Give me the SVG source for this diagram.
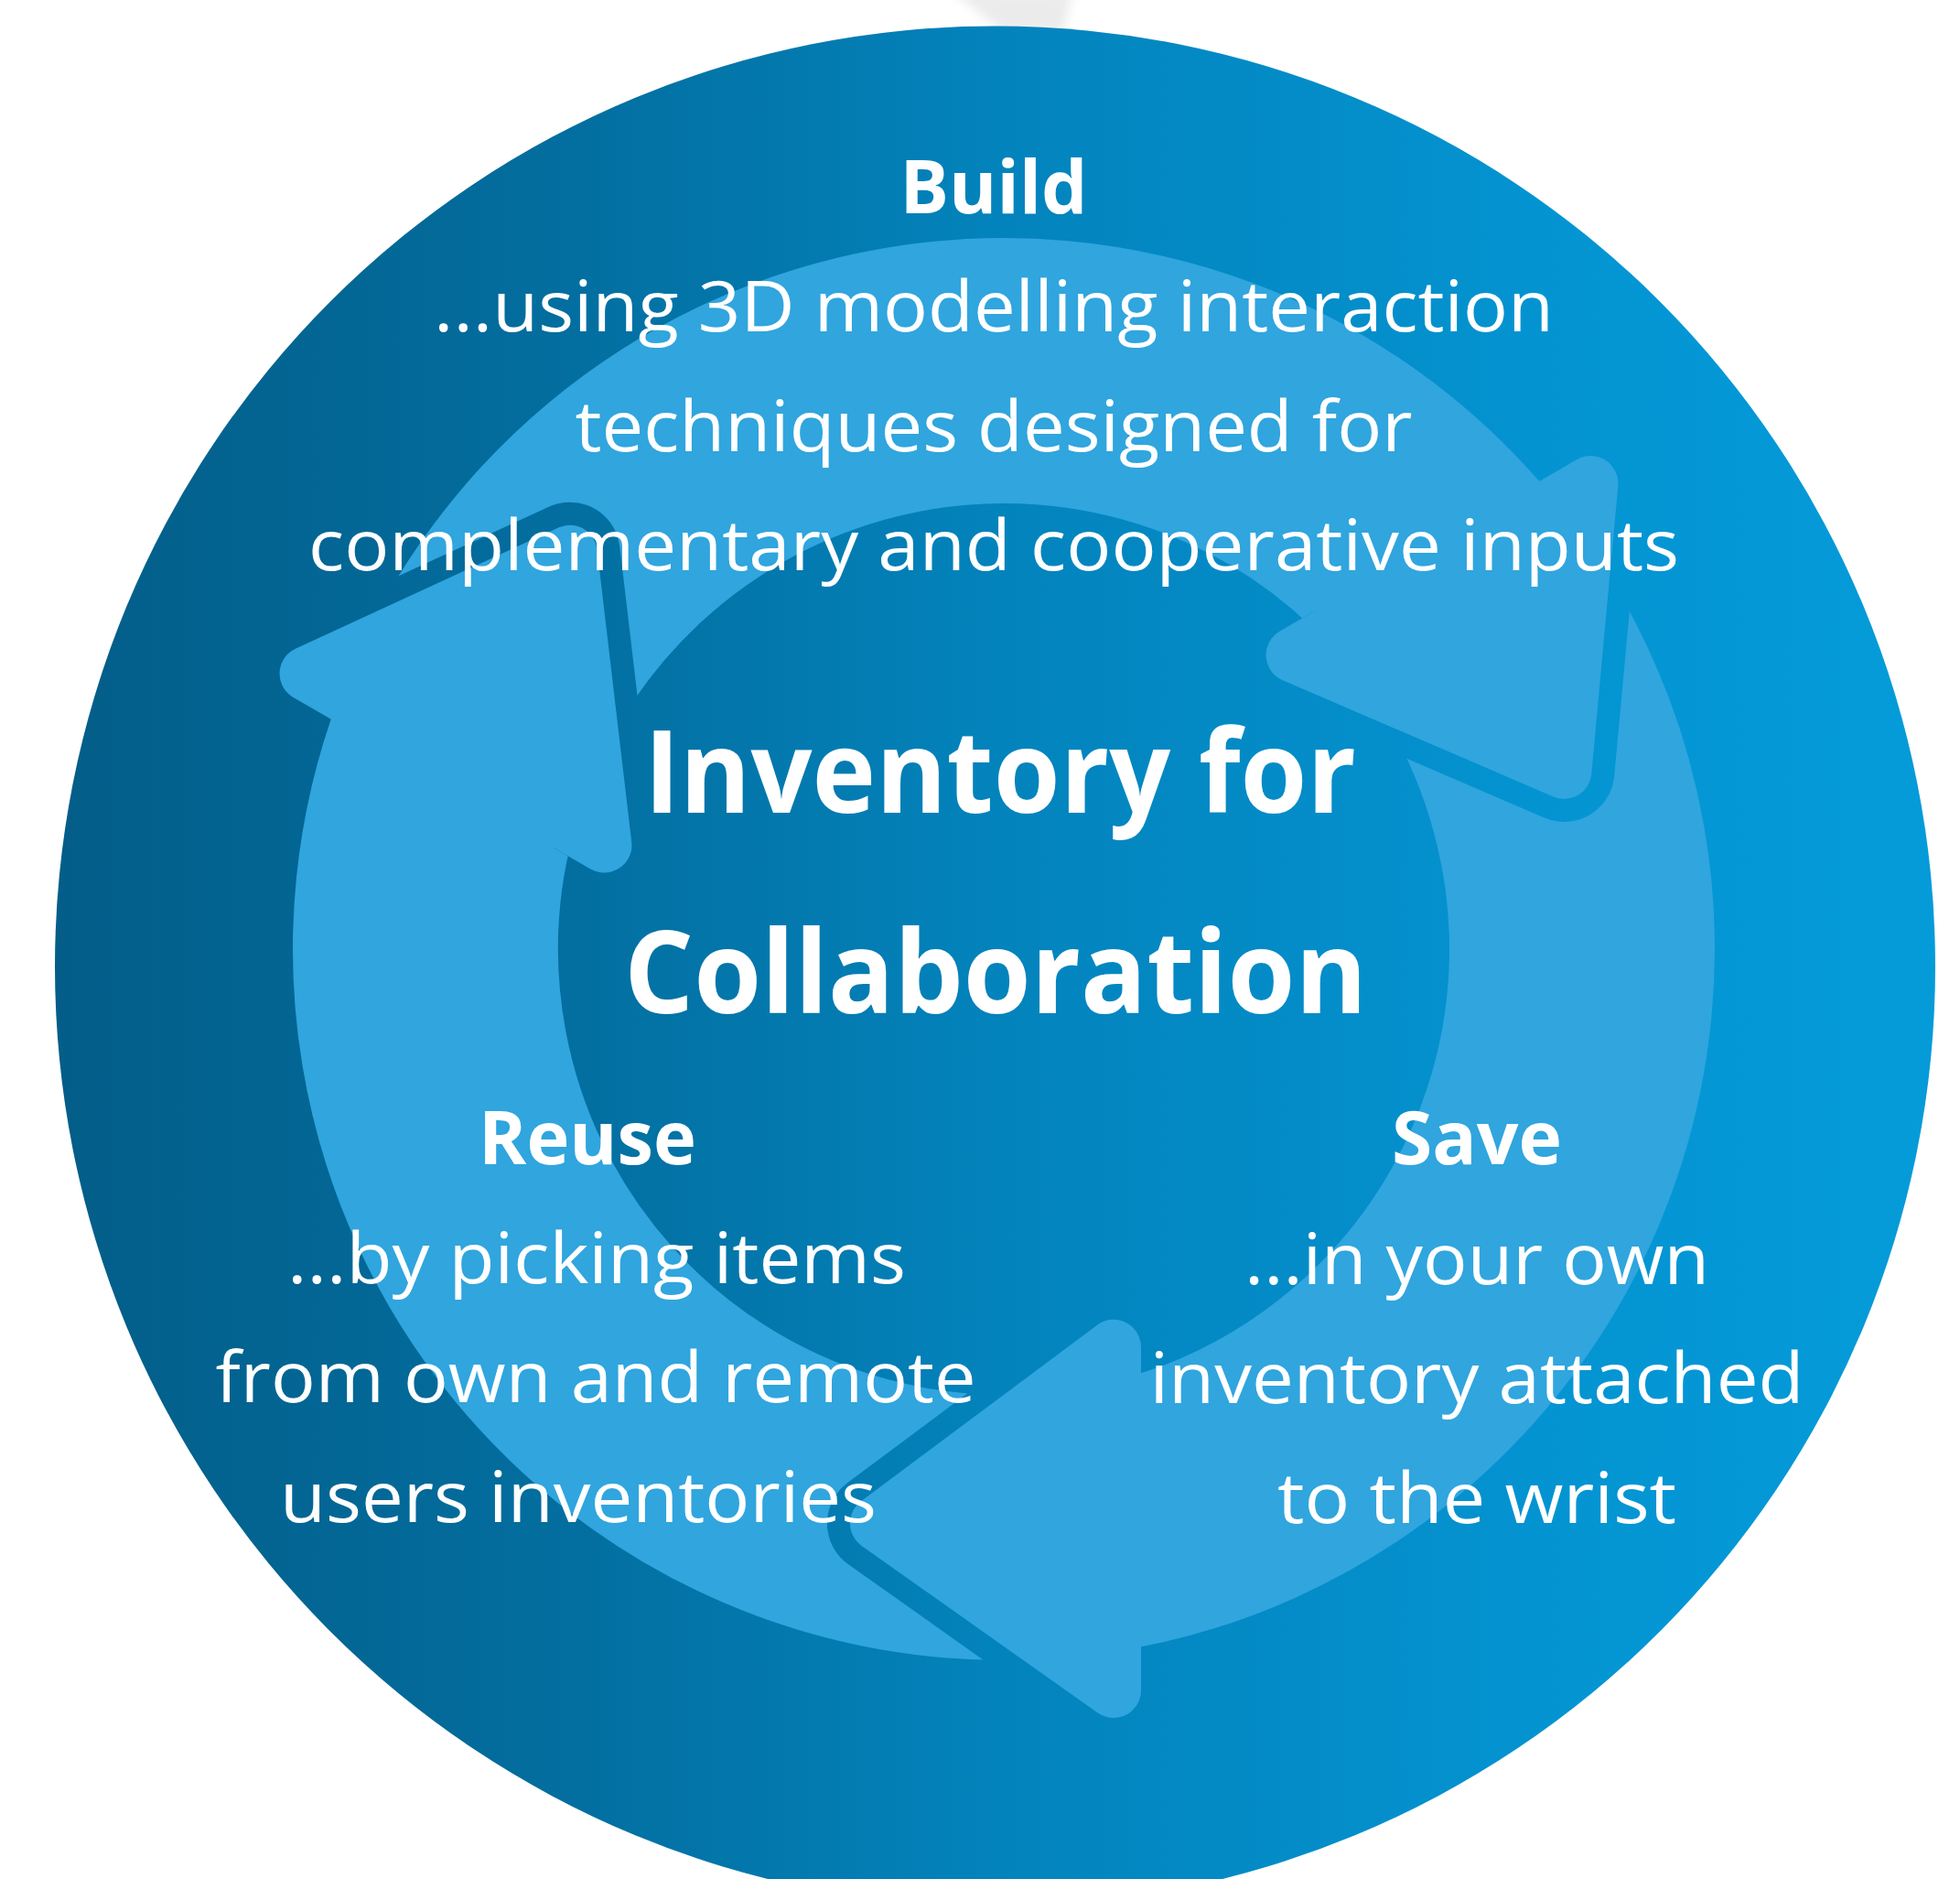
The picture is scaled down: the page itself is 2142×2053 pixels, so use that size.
<svg xmlns="http://www.w3.org/2000/svg" xmlns:xlink="http://www.w3.org/1999/xlink" width="2142" height="2053" viewBox="0 0 2142 2053">
  <style>
    .arrow { fill: #30a5de; stroke: #30a5de; stroke-width: 60; stroke-linejoin: round; }
    .gap { fill: none; stroke-width: 110; stroke-linejoin: round; stroke-linecap: round; }
    .t { font-family: "Open Sans", "Noto Sans", "Liberation Sans", sans-serif; fill: #ffffff; text-anchor: middle; }
    .h { font-weight: 700; font-size: 81px; }
    .b { font-weight: 400; font-size: 77px; }
    .title { font-weight: 700; font-size: 125px; }
  </style>
  <defs>
    <!-- disc shading, dark on the left to bright on the right -->
    <linearGradient id="bg" gradientUnits="userSpaceOnUse" x1="60" y1="0" x2="2115" y2="0">
      <stop offset="0" stop-color="#035d88"/>
      <stop offset="0.27" stop-color="#036e9f"/>
      <stop offset="0.5" stop-color="#0383bc"/>
      <stop offset="0.8" stop-color="#0494d2"/>
      <stop offset="1" stop-color="#059bd9"/>
    </linearGradient>
    <!-- same shading, counter-rotated for the rotated arrow copies -->
    <linearGradient id="bg120" xlink:href="#bg" gradientTransform="rotate(-120 1097 1037)"/>
    <linearGradient id="bg240" xlink:href="#bg" gradientTransform="rotate(-240 1097 1037)"/>

    <filter id="soft" x="-20%" y="-50%" width="140%" height="200%">
      <feGaussianBlur stdDeviation="6"/>
    </filter>

    <!-- one cycle arrow (drawn in the bottom position), inset by the 30px rounding stroke -->
    <path id="arrow-body" d="M 1669.2 556.8 A 747 747 0 0 1 1217 1774.3 L 1217 1847 L 958.9 1664.4 L 1217 1471.8 L 1217 1539.9 A 517 517 0 0 0 1493.0 704.7 Z"/>
    <path id="arrow-head" d="M 1217 1471.8 L 958.9 1664.4 L 1217 1847 Z"/>
    <path id="arrow-edge" d="M 1217 1847 L 958.9 1664.4 L 1217 1471.8"/>
    <!-- keeps the head outline in front of the head's own base -->
    <clipPath id="ahead">
      <rect x="600" y="1250" width="647" height="803"/>
    </clipPath>
  </defs>

  <rect x="0" y="0" width="2142" height="2053" fill="#ffffff"/>
  <path d="M 1040 -10 L 1172 -10 L 1162 34 L 1096 34 Z" fill="#ebebeb" filter="url(#soft)"/>

  <g id="disc">
    <circle cx="1087.5" cy="1056" r="1027.5" fill="url(#bg)"/>
  </g>

  <g id="connectors">
    <!-- arrow bodies: save (bottom), reuse (left), build (top) -->
    <use xlink:href="#arrow-body" class="arrow"/>
    <use xlink:href="#arrow-body" class="arrow" transform="rotate(120 1097 1037)"/>
    <use xlink:href="#arrow-body" class="arrow" transform="rotate(240 1097 1037)"/>

    <!-- background-coloured outline ahead of each head -->
    <use xlink:href="#arrow-edge" class="gap" stroke="url(#bg)" clip-path="url(#ahead)"/>
    <g transform="rotate(120 1097 1037)">
      <use xlink:href="#arrow-edge" class="gap" stroke="url(#bg120)" clip-path="url(#ahead)"/>
    </g>
    <g transform="rotate(240 1097 1037)">
      <use xlink:href="#arrow-edge" class="gap" stroke="url(#bg240)" clip-path="url(#ahead)"/>
    </g>

    <!-- heads on top -->
    <use xlink:href="#arrow-head" class="arrow"/>
    <use xlink:href="#arrow-head" class="arrow" transform="rotate(120 1097 1037)"/>
    <use xlink:href="#arrow-head" class="arrow" transform="rotate(240 1097 1037)"/>
  </g>

  <g id="node-build">
    <text class="t h" x="1086" y="233" textLength="205" lengthAdjust="spacingAndGlyphs">Build</text>
    <text class="t b" x="1086" y="362" textLength="1224" lengthAdjust="spacingAndGlyphs">...using 3D modelling interaction</text>
    <text class="t b" x="1086" y="493" textLength="915" lengthAdjust="spacingAndGlyphs">techniques designed for</text>
    <text class="t b" x="1086" y="623" textLength="1498" lengthAdjust="spacingAndGlyphs">complementary and cooperative inputs</text>
  </g>

  <g id="node-title">
    <text class="t title" x="1093" y="888" textLength="778" lengthAdjust="spacingAndGlyphs">Inventory for</text>
    <text class="t title" x="1088" y="1107" textLength="812" lengthAdjust="spacingAndGlyphs">Collaboration</text>
  </g>

  <g id="node-reuse">
    <text class="t h" x="642" y="1272" textLength="238" lengthAdjust="spacingAndGlyphs">Reuse</text>
    <text class="t b" x="652" y="1402" textLength="676" lengthAdjust="spacingAndGlyphs">...by picking items</text>
    <text class="t b" x="651" y="1532" textLength="831" lengthAdjust="spacingAndGlyphs">from own and remote</text>
    <text class="t b" x="632" y="1663" textLength="652" lengthAdjust="spacingAndGlyphs">users inventories</text>
  </g>

  <g id="node-save">
    <text class="t h" x="1614" y="1272" textLength="186" lengthAdjust="spacingAndGlyphs">Save</text>
    <text class="t b" x="1614" y="1403" textLength="508" lengthAdjust="spacingAndGlyphs">...in your own</text>
    <text class="t b" x="1614" y="1533" textLength="715" lengthAdjust="spacingAndGlyphs">inventory attached</text>
    <text class="t b" x="1614" y="1664" textLength="436" lengthAdjust="spacingAndGlyphs">to the wrist</text>
  </g>
</svg>
